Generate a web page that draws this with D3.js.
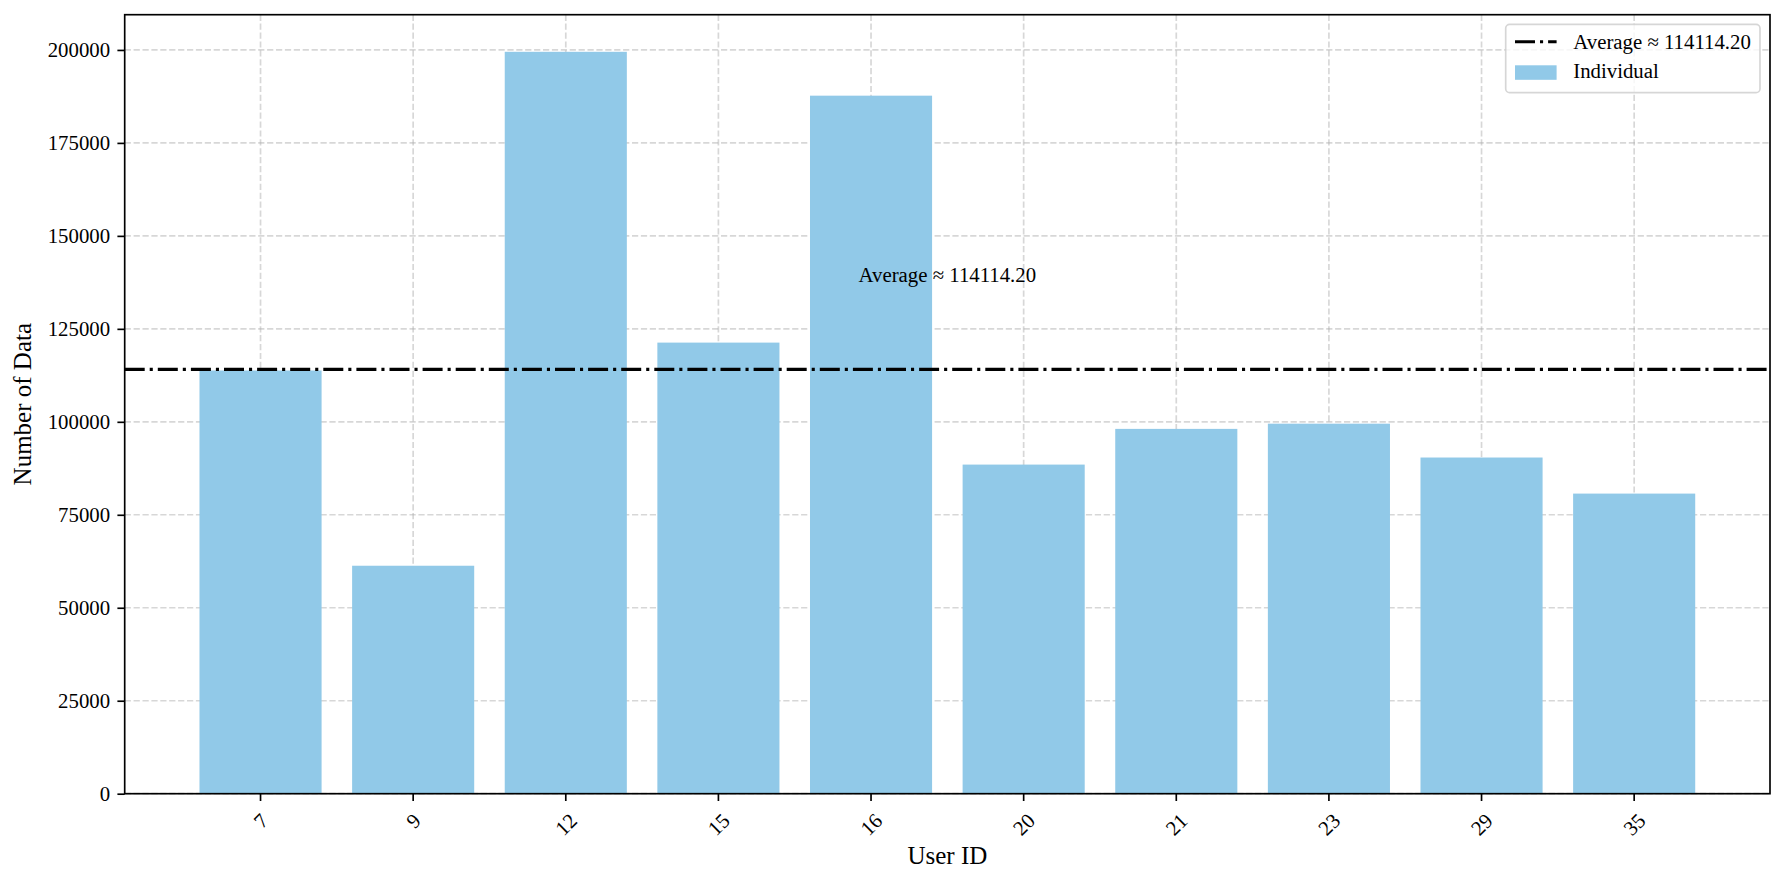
<!DOCTYPE html>
<html>
<head>
<meta charset="utf-8">
<script src="https://cdn.jsdelivr.net/npm/d3@7"></script>
<style>
  body { margin: 0; background: #fff; }
  svg text { font-family: "Liberation Serif", "Times New Roman", serif !important; fill: #000; }
</style>
</head>
<body>
<div id="chart"></div>
<script>
// chart values
var userIds = ["7", "9", "12", "15", "16", "20", "21", "23", "29", "35"];
var dataCounts = [113800, 61300, 199500, 121300, 187700, 88500, 98100, 99500, 90400, 80700];
var averageValue = 114114.20;
var yTickValues = [0, 25000, 50000, 75000, 100000, 125000, 150000, 175000, 200000];
var averageLabel = "Average \u2248 " + averageValue.toFixed(2);
var barLabel = "Individual";

var width = 1785, height = 885;
var margin = {top: 14.7, right: 15, bottom: 91.3, left: 124.7};
var innerW = width - margin.left - margin.right;
var innerH = height - margin.top - margin.bottom;
var tickFont = 20.8, labelFont = 25;
var barColor = "#91c9e8";

var svg = d3.select("#chart").append("svg")
  .attr("width", width).attr("height", height);
var g = svg.append("g")
  .attr("transform", "translate(" + margin.left + "," + margin.top + ")");

// matplotlib-like band layout: 0.8 bar width, 5% margins
var xScale = d3.scaleBand().domain(userIds).range([0, innerW])
  .paddingInner(0.2).paddingOuter(0.49);
var yScale = d3.scaleLinear().domain([0, d3.max(dataCounts) * 1.05]).range([innerH, 0]);

// grid
var grid = g.append("g");
grid.selectAll("line.hg").data(yTickValues).enter().append("line")
  .attr("x1", 0).attr("x2", innerW)
  .attr("y1", function(d) { return yScale(d); })
  .attr("y2", function(d) { return yScale(d); })
  .attr("stroke", "#b0b0b0").attr("stroke-opacity", 0.5)
  .attr("stroke-width", 1.67).attr("stroke-dasharray", "6.2,2.7");
grid.selectAll("line.vg").data(userIds).enter().append("line")
  .attr("x1", function(d) { return xScale(d) + xScale.bandwidth() / 2; })
  .attr("x2", function(d) { return xScale(d) + xScale.bandwidth() / 2; })
  .attr("y1", 0).attr("y2", innerH)
  .attr("stroke", "#b0b0b0").attr("stroke-opacity", 0.5)
  .attr("stroke-width", 1.67).attr("stroke-dasharray", "6.2,2.7");

// bars
g.selectAll("rect.bar").data(dataCounts).enter().append("rect")
  .attr("class", "bar")
  .attr("x", function(d, i) { return xScale(userIds[i]); })
  .attr("y", function(d) { return yScale(d); })
  .attr("width", xScale.bandwidth())
  .attr("height", function(d) { return innerH - yScale(d); })
  .attr("fill", barColor);

// average line
g.append("line")
  .attr("x1", 0).attr("x2", innerW)
  .attr("y1", yScale(averageValue)).attr("y2", yScale(averageValue))
  .attr("stroke", "#000").attr("stroke-width", 3.1)
  .attr("stroke-dasharray", "20,5,3.1,5");

// annotation, centred between the middle bars
var midX = (xScale(userIds[4]) + xScale(userIds[5])) / 2 + xScale.bandwidth() / 2;
g.append("text")
  .attr("x", midX).attr("y", yScale(averageValue * 1.2) - 2)
  .attr("text-anchor", "middle").attr("font-size", tickFont + "px")
  .text(averageLabel);

// axes
var yAxis = g.append("g")
  .call(d3.axisLeft(yScale).tickValues(yTickValues).tickFormat(d3.format("d"))
    .tickSize(7.3).tickPadding(7.3));
var xAxis = g.append("g").attr("transform", "translate(0," + innerH + ")")
  .call(d3.axisBottom(xScale).tickSize(7.3).tickPadding(7.3));
[yAxis, xAxis].forEach(function(a) {
  a.attr("font-family", null).attr("font-size", null);
  a.select(".domain").remove();
  a.selectAll(".tick line").attr("stroke", "#000").attr("stroke-width", 1.67);
  a.selectAll(".tick text")
    .style("font-family", "'Liberation Serif', 'Times New Roman', serif")
    .style("font-size", tickFont + "px");
});
yAxis.selectAll(".tick text").attr("dy", "0.32em");

// rotate x labels 45deg, bbox top at tick+pad like matplotlib
xAxis.selectAll(".tick text").each(function() {
  var t = d3.select(this);
  var w = this.getComputedTextLength();
  var h = tickFont * 1.15;
  var bh = (w + h) * Math.SQRT1_2;
  t.attr("y", null).attr("dy", null)
    .attr("text-anchor", "middle").attr("dominant-baseline", "central")
    .attr("transform", "translate(0," + (7.3 + 7.3 + bh / 2) + ") rotate(-45)");
});

// frame
g.append("rect").attr("x", 0).attr("y", 0).attr("width", innerW).attr("height", innerH)
  .attr("fill", "none").attr("stroke", "#000").attr("stroke-width", 1.67);

// axis labels
svg.append("text")
  .attr("x", margin.left + innerW / 2).attr("y", 864)
  .attr("text-anchor", "middle").attr("font-size", labelFont + "px")
  .text("User ID");
svg.append("text")
  .attr("transform", "translate(31," + (margin.top + innerH / 2) + ") rotate(-90)")
  .attr("text-anchor", "middle").attr("font-size", labelFont + "px")
  .text("Number of Data");

// legend
var legend = svg.append("g").attr("transform", "translate(1505.7,24.3)");
legend.append("rect")
  .attr("width", 254.3).attr("height", 68.4).attr("rx", 4).attr("ry", 4)
  .attr("fill", "#fff").attr("fill-opacity", 0.8)
  .attr("stroke", "#cccccc").attr("stroke-opacity", 0.8).attr("stroke-width", 1.67);
legend.append("line")
  .attr("x1", 9.3).attr("x2", 50.9).attr("y1", 17.4).attr("y2", 17.4)
  .attr("stroke", "#000").attr("stroke-width", 3.1)
  .attr("stroke-dasharray", "20,5,3.1,5");
legend.append("rect")
  .attr("x", 9.3).attr("y", 41).attr("width", 41.6).attr("height", 14.5)
  .attr("fill", barColor);
legend.append("text").attr("x", 67.6).attr("y", 24.6)
  .attr("font-size", tickFont + "px").text(averageLabel);
legend.append("text").attr("x", 67.6).attr("y", 53.6)
  .attr("font-size", tickFont + "px").text(barLabel);
</script>
</body>
</html>
